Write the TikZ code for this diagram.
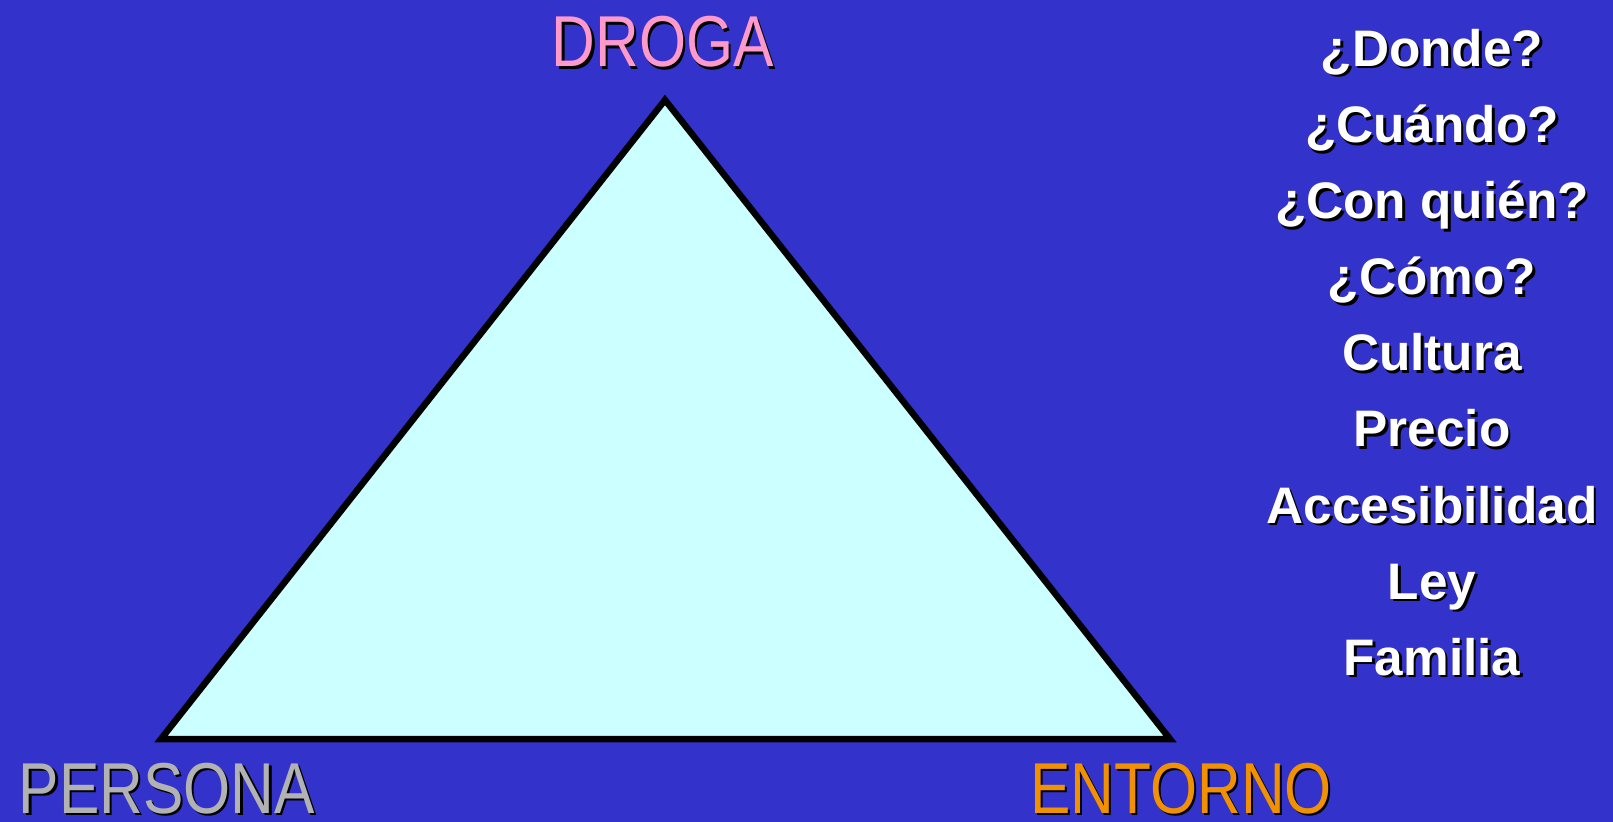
\documentclass[tikz,border=0pt]{standalone}
\usepackage{fontspec}
\setmainfont{Liberation Sans}
\usepackage{graphicx}

\definecolor{fondo}{HTML}{3333CC}
\definecolor{relleno}{HTML}{CCFFFF}
\definecolor{rosa}{HTML}{FF99CC}
\definecolor{gris}{HTML}{B2B2B2}
\definecolor{naranja}{HTML}{F29100}

% texto con sombra negra
\newcommand{\sombra}[1]{\leavevmode\rlap{\kern0.7pt\raisebox{-0.7pt}{\color{black}#1}}#1}
\newcommand{\estrecho}[1]{\scalebox{0.84}[1]{\sombra{#1}}}

\tikzset{
	vertice/.style={anchor=base, inner sep=0pt, font=\fontsize{20.5}{24}\selectfont},
	factor/.style={anchor=base, inner sep=0pt, text=white, font=\fontsize{14.6}{17}\bfseries\selectfont},
}

\begin{document}
\begin{tikzpicture}[x=0.01cm, y=-0.01cm]
	\fill[fondo] (0,0) rectangle (1613,822);
	\useasboundingbox (0,0) rectangle (1613,822);
	% triangulo droga - persona - entorno
	\coordinate (d) at (665,100);
	\coordinate (p) at (161,739);
	\coordinate (e) at (1170,739);
	\filldraw[fill=relleno, draw=black, line width=0.065cm] (p) -- (d) -- (e) -- cycle;
	% vertices
	\node[vertice, text=rosa] (droga) at (663,67) {\estrecho{DROGA}};
	\node[vertice, text=gris] (persona) at (167,813) {\estrecho{PERSONA}};
	\node[vertice, text=naranja] (entorno) at (1181,813) {\estrecho{ENTORNO}};
	% factores del entorno
	\foreach \t [count=\i from 0] in {¿Donde?, ¿Cuándo?, ¿Con quién?, ¿Cómo?, Cultura, Precio, Accesibilidad, Ley, Familia}
		\node[factor] (f\i) at (1432,66.5+76.1*\i) {\sombra{\t}};
\end{tikzpicture}
\end{document}
